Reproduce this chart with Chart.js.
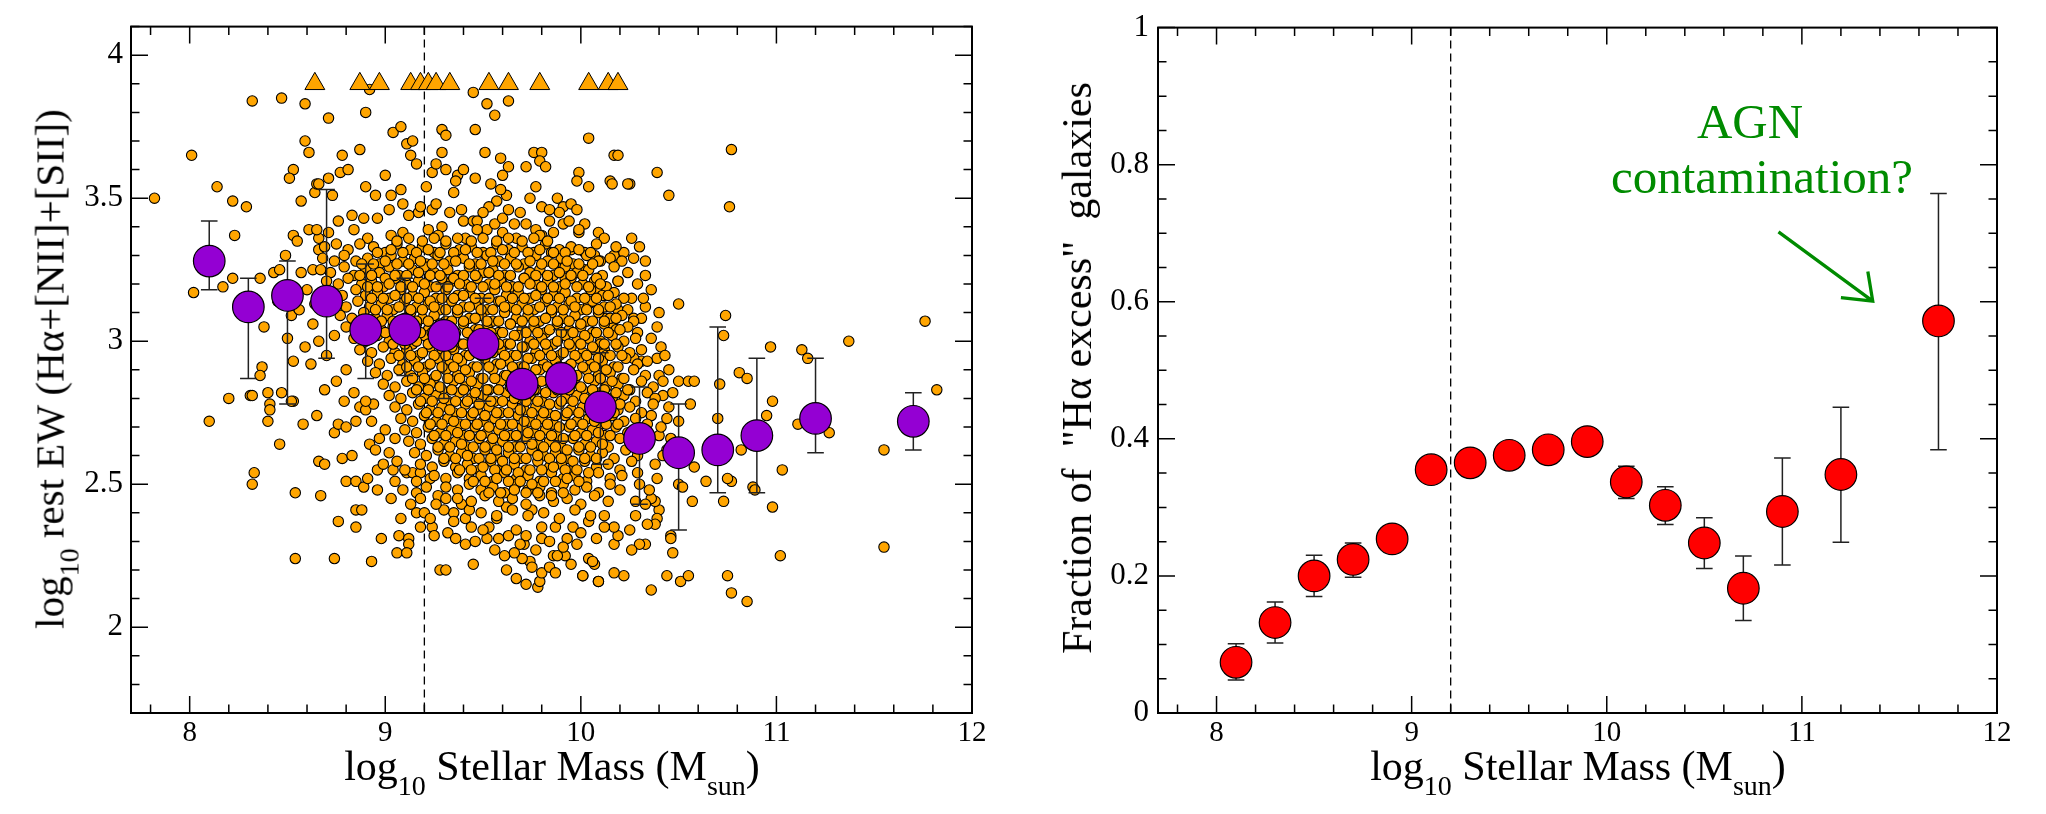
<!DOCTYPE html>
<html>
<head>
<meta charset="utf-8">
<script src="https://cdn.jsdelivr.net/npm/chart.js"></script>
<style>
  body { margin: 0; background: #fff; }
  #wrap { position: relative; width: 2046px; height: 814px; overflow: hidden; }
  canvas { position: absolute; top: 0; }
  .title { position: absolute; font-family: "Liberation Serif", serif; font-size: 42px; line-height: 1; white-space: pre; color: #000; }
  .title sub { font-size: 28px; vertical-align: baseline; position: relative; top: 15px; line-height: 1; }
  .xt { top: 745px; transform: translateX(-50%); }
  .yt { transform: translate(-50%, -50%) rotate(-90deg); }
  .agn { position: absolute; font-family: "Liberation Serif", serif; font-size: 49px; line-height: 1; color: rgb(0,139,0); white-space: nowrap; transform: translateX(-50%); }
</style>
</head>
<body>
<div id="wrap">
  <canvas id="ewChart" width="1000" height="814" style="left:0px"></canvas>
  <canvas id="fracChart" width="1046" height="814" style="left:1000px"></canvas>
  <div class="title xt" style="left:552px">log<sub>10</sub> Stellar Mass (M<sub>sun</sub>)</div>
  <div class="title xt" style="left:1578px">log<sub>10</sub> Stellar Mass (M<sub>sun</sub>)</div>
  <div class="title yt" style="left:50px; top:369px; font-size:41px">log<sub>10</sub> rest EW (Hα+[NII]+[SII])</div>
  <div class="title yt" style="left:1077px; top:368px">Fraction of  "Hα excess"  galaxies</div>
  <div class="agn" style="left:1750px; top:97px">AGN</div>
  <div class="agn" style="left:1762px; top:152px">contamination?</div>
</div>
<script>
// mass bins (both panels)
const massBins = [8.1, 8.3, 8.5, 8.7, 8.9, 9.1, 9.3, 9.5, 9.7, 9.9, 10.1, 10.3, 10.5, 10.7, 10.9, 11.2, 11.7];

// left panel: binned mean EW with error range
const ewMean = [3.28, 3.12, 3.16, 3.14, 3.04, 3.04, 3.02, 2.99, 2.85, 2.87, 2.77, 2.66, 2.61, 2.62, 2.67, 2.73, 2.72];
const ewHi   = [3.42, 3.22, 3.28, 3.53, 3.27, 3.22, 3.20, 3.15, 3.05, 3.04, 2.96, 2.84, 2.78, 3.05, 2.94, 2.94, 2.82];
const ewLo   = [3.18, 2.87, 2.78, 2.94, 2.87, 2.88, 2.80, 2.79, 2.65, 2.65, 2.57, 2.43, 2.34, 2.47, 2.47, 2.61, 2.62];

// right panel: fraction of "Halpha excess" galaxies
const fracMean = [0.074, 0.132, 0.200, 0.224, 0.254, 0.355, 0.365, 0.376, 0.384, 0.396, 0.337, 0.303, 0.248, 0.182, 0.294, 0.348, 0.572];
const fracHi   = [0.101, 0.162, 0.230, 0.248, 0.269, 0.367, 0.377, 0.388, 0.396, 0.408, 0.360, 0.330, 0.285, 0.229, 0.372, 0.446, 0.758];
const fracLo   = [0.048, 0.102, 0.170, 0.198, 0.239, 0.343, 0.353, 0.364, 0.372, 0.384, 0.313, 0.275, 0.211, 0.135, 0.216, 0.249, 0.384];

// lower limits (triangles) plotted at the top
const limitMass = [8.64, 8.87, 8.97, 9.13, 9.18, 9.22, 9.26, 9.33, 9.53, 9.63, 9.79, 10.04, 10.14, 10.19];
const limitEW = 3.90;

const massCut = 9.2;
const xTicks = [8, 9, 10, 11, 12];
const ewTicks = [2, 2.5, 3, 3.5, 4];
const fracTicks = [0, 0.2, 0.4, 0.6, 0.8, 1];

// arrow of the annotation, in data units: start, tip, head ends
const agnArrow = [[10.88, 0.702], [11.363, 0.601], [11.20, 0.606], [11.338, 0.644]];

// individual galaxies [mass, EW]
const dotsUpper = [
  [7.82,3.50],[8.01,3.65],[8.14,3.54],[8.22,3.49],[8.29,3.47],[8.23,3.37],[8.32,3.84],[8.47,3.85],[8.59,3.83],[8.71,3.78],
  [8.90,3.80],[8.92,3.88],[8.59,3.70],[8.61,3.66],[8.78,3.65],[8.87,3.67],[8.53,3.60],[8.51,3.57],[8.57,3.49],[8.64,3.52],
  [8.65,3.55],[8.71,3.57],[8.73,3.51],[8.77,3.59],[8.81,3.60],[8.90,3.54],[8.95,3.51],[9.00,3.58],[9.03,3.51],[9.08,3.53],
  [9.09,3.48],[9.04,3.73],[9.08,3.75],[9.11,3.69],[9.14,3.70],[9.13,3.65],[9.16,3.62],[9.17,3.45],[9.21,3.54],[9.24,3.59],
  [9.26,3.62],[9.24,3.46],[9.26,3.48],[9.29,3.74],[9.31,3.72],[9.29,3.66],[9.31,3.60],[9.35,3.52],[9.37,3.58],[9.40,3.60],
  [9.36,3.56],[9.46,3.74],[9.45,3.87],[9.52,3.83],[9.56,3.79],[9.63,3.84],[9.46,3.57],[9.51,3.66],[9.54,3.55],[9.59,3.64],
  [9.60,3.58],[9.63,3.61],[9.62,3.51],[9.59,3.53],[9.57,3.49],[9.53,3.47],[9.39,3.46],[9.40,3.42],[9.45,3.42],[9.52,3.39],
  [9.56,3.41],[9.60,3.43],[9.63,3.46],[9.72,3.61],[9.76,3.66],[9.80,3.66],[9.79,3.63],[9.82,3.61],[9.77,3.54],[9.74,3.50],
  [9.80,3.47],[9.72,3.41],[9.77,3.39],[9.80,3.37],[9.88,3.50],[9.91,3.47],[9.89,3.45],[9.95,3.48],[9.98,3.46],[9.91,3.41],
  [9.99,3.38],[9.99,3.59],[9.98,3.56],[10.04,3.54],[10.04,3.71],[10.15,3.56],[10.17,3.65],[10.19,3.65],[10.25,3.55],[10.16,3.55]
];
const dotsRight = [
  [10.77,3.67],[10.76,3.47],[10.39,3.59],[10.45,3.51],[10.24,3.55],[10.26,3.36],[10.30,3.33],[10.07,3.30],[10.10,3.28],[10.17,3.30],
  [10.22,3.31],[10.27,3.29],[10.33,3.28],[10.33,3.23],[10.19,3.21],[10.26,3.15],[10.19,3.11],[10.27,3.08],[10.31,3.08],[10.39,3.05],
  [10.50,3.13],[10.74,3.09],[10.73,3.02],[10.97,2.98],[11.13,2.97],[11.16,2.94],[11.37,3.00],[11.76,3.07],[10.39,2.94],[10.40,2.88],
  [10.31,2.93],[10.27,2.94],[10.81,2.89],[10.85,2.87],[10.50,2.86],[10.55,2.86],[10.58,2.86],[10.71,2.85],[9.95,3.32],[9.91,3.26],
  [9.85,3.31],[9.92,3.22],[10.02,3.25],[10.04,3.13],[10.08,3.18],[10.12,3.16],[10.13,3.08],[10.16,3.06],[10.12,2.97],[10.10,3.00],
  [11.82,2.83],[11.55,2.62],[11.55,2.28],[11.11,2.71],[11.27,2.68],[10.98,2.79],[10.95,2.74],[11.03,2.55],[10.98,2.42],[11.02,2.25],
  [10.82,2.62],[10.88,2.49],[10.89,2.48],[10.77,2.51],[10.75,2.52],[10.73,2.44],[10.70,2.73],[10.64,2.51],[10.58,2.56],[10.57,2.44],
  [10.56,2.78],[10.50,2.72],[10.50,2.50],[10.52,2.49],[10.46,2.32],[10.47,2.26],[10.46,2.31],[10.44,2.18],[10.51,2.16],[10.55,2.18],
  [10.36,2.13],[10.75,2.18],[10.77,2.12],[10.85,2.09],[10.40,2.41],[10.38,2.44],[10.36,2.45],[10.39,2.38],[10.38,2.36],[10.34,2.36],
  [10.33,2.29],[10.30,2.29],[10.26,2.27],[10.22,2.18],[10.17,2.19],[10.09,2.16],[10.01,2.18],[10.04,2.24],[10.07,2.22],[10.17,2.29],
  [10.19,2.32],[10.17,2.35],[10.25,2.34],[10.28,2.39],[10.33,2.43],[10.29,2.54],[10.40,2.67],[10.38,2.57],[10.41,2.70],[10.36,2.74],
  [10.42,2.81],[10.44,2.62],[10.45,2.77],[10.41,2.98],[10.36,3.01]
];
const dotsLeft = [
  [8.20,2.80],[8.31,2.81],[8.40,2.82],[8.47,2.82],[8.41,2.78],[8.41,2.76],[8.40,2.72],[8.10,2.72],[8.46,2.64],[8.53,2.79],
  [8.58,2.71],[8.65,2.74],[8.74,2.68],[8.76,2.71],[8.80,2.70],[8.85,2.72],[8.87,2.77],[8.90,2.76],[8.94,2.78],[8.92,2.64],
  [8.66,2.58],[8.69,2.57],[8.78,2.59],[8.83,2.60],[8.33,2.54],[8.32,2.50],[8.54,2.47],[8.67,2.46],[8.80,2.51],[8.85,2.51],
  [8.89,2.49],[8.91,2.52],[8.96,2.55],[8.96,2.48],[9.04,2.55],[9.05,2.51],[9.05,2.66],[8.85,2.41],[8.88,2.41],[8.76,2.37],
  [8.85,2.35],[8.98,2.31],[9.07,2.32],[9.12,2.31],[9.12,2.29],[9.06,2.26],[9.11,2.26],[8.54,2.24],[8.74,2.24],[8.93,2.23],
  [8.02,3.17],[8.17,3.19],[8.22,3.22],[8.61,3.39],[8.53,3.37],[8.55,3.35],[8.49,3.30],[8.43,3.24],[8.46,3.25],[8.36,3.22],
  [8.52,3.09],[8.56,3.11],[8.63,3.06],[8.59,2.98],[8.66,3.00],[8.50,3.01],[8.53,2.93],[8.37,2.91],[8.36,2.88],[8.32,2.81],
  [8.52,2.79],[8.75,2.86],[8.79,2.79],[8.90,2.79],[8.84,2.82],[8.66,3.36],[8.66,3.32],[8.63,3.25],[8.65,3.39],[8.66,3.55],
  [8.60,3.18],[8.64,3.13],[8.57,3.24],[8.70,2.95],[8.74,3.02],[8.62,2.92],[8.45,3.14],[8.38,3.05],[8.69,2.83],[8.80,2.90]
];
const dotsLower = [
  [9.11,2.54],[9.14,2.54],[9.18,2.54],[9.16,2.47],[9.18,2.45],[9.16,2.40],[9.20,2.40],[9.18,2.35],[9.24,2.35],[9.25,2.32],
  [9.23,2.52],[9.28,2.20],[9.31,2.20],[9.45,2.22],[9.32,2.33],[9.36,2.31],[9.41,2.29],[9.46,2.30],[9.52,2.31],[9.56,2.27],
  [9.41,2.38],[9.35,2.40],[9.30,2.41],[9.27,2.46],[9.62,2.20],[9.67,2.17],[9.72,2.15],[9.78,2.14],[9.79,2.16],[9.80,2.19],
  [9.84,2.21],[9.87,2.19],[9.92,2.25],[10.01,2.18],[10.09,2.16],[10.06,2.23],[9.74,2.23],[9.70,2.24],[9.66,2.26],[9.71,2.29],
  [9.80,2.31],[9.86,2.25],[9.88,2.25],[9.57,2.38],[9.63,2.32],[9.67,2.34],[9.72,2.32],[9.75,2.41],[9.80,2.35],[9.96,2.35],
  [9.98,2.29],[9.87,2.35],[9.62,2.42],[9.53,2.35],[9.93,2.31],[10.12,2.39],[10.08,2.31],[9.44,2.35]
];
// ragged edge of the central cloud
const dotsFringe = [
  [8.93,2.72],[8.97,2.66],[9.02,2.61],[8.99,2.57],[9.06,2.58],[9.03,2.45],[9.09,2.48],[9.13,2.43],[9.08,2.38],[9.21,2.49],
  [9.26,2.43],[9.31,2.45],[9.35,2.37],[9.39,2.43],[9.00,2.69],[8.95,2.62],[9.10,2.55],[9.16,2.51],[9.23,2.38],[9.43,2.41],
  [9.50,2.34],[9.58,2.31],[9.69,2.29],[9.77,2.27],[9.84,2.30],[9.91,2.28],[10.00,2.33],[10.04,2.37],[10.12,2.35],[9.61,2.25],
  [9.75,2.21],[9.95,2.22],[10.33,3.12],[10.36,3.18],[10.40,3.10],[10.43,2.95],[10.45,2.90],[10.42,2.86],[10.47,2.82],[10.44,2.73],
  [10.46,2.66],[10.42,2.60],[10.39,2.52],[10.35,2.48],[10.30,2.50],[10.28,2.44],[10.32,3.15],[10.29,3.20],[10.24,3.24],[10.21,3.28],
  [8.76,3.42],[8.83,3.44],[8.89,3.43],[9.02,3.46],[9.18,3.47],[9.33,3.45],[9.50,3.45],[9.69,3.45],[9.84,3.46],[9.94,3.42],
  [10.02,3.41],[10.09,3.38],[10.12,3.36],[10.18,3.33]
];
// dense central cloud
const dotsCore = [
  [8.96,3.43],[9.12,3.44],[9.29,3.40],[9.47,3.42],[9.66,3.41],[9.84,3.42],
  [8.71,3.38],[8.84,3.39],[8.91,3.36],[9.03,3.37],[9.09,3.38],[9.22,3.39],[9.27,3.37],[9.41,3.36],[9.47,3.39],[9.60,3.38],
  [9.67,3.36],[9.79,3.37],[9.86,3.38],[9.99,3.39],
  [8.69,3.33],[8.75,3.34],[8.81,3.32],[8.87,3.34],[8.94,3.33],[9.00,3.31],[9.06,3.34],[9.13,3.32],[9.19,3.33],[9.25,3.31],[9.31,3.34],
  [9.38,3.32],[9.44,3.33],[9.50,3.31],[9.57,3.34],[9.63,3.32],[9.70,3.33],[9.76,3.31],[9.82,3.34],[9.89,3.32],[9.95,3.33],[10.02,3.31],
  [10.08,3.34],
  [8.68,3.29],[8.74,3.28],[8.79,3.30],[8.85,3.28],[8.91,3.29],[8.97,3.27],[9.03,3.30],[9.09,3.28],[9.15,3.29],[9.21,3.27],[9.27,3.30],
  [9.33,3.28],[9.40,3.29],[9.46,3.27],[9.52,3.30],[9.58,3.28],[9.64,3.29],[9.71,3.27],[9.77,3.30],[9.83,3.28],[9.90,3.29],[9.96,3.27],
  [10.03,3.30],[10.09,3.28],[10.15,3.29],
  [8.67,3.25],[8.72,3.24],[8.79,3.26],[8.84,3.23],[8.90,3.25],[8.97,3.24],[9.02,3.26],[9.07,3.23],[9.14,3.25],[9.20,3.26],[9.25,3.24],
  [9.32,3.25],[9.37,3.23],[9.43,3.26],[9.50,3.24],[9.55,3.25],[9.61,3.23],[9.68,3.26],[9.74,3.24],[9.79,3.25],[9.86,3.23],[9.92,3.26],
  [9.98,3.24],[10.04,3.25],[10.11,3.23],[10.17,3.26],
  [8.70,3.21],[8.76,3.20],[8.81,3.22],[8.88,3.20],[8.93,3.21],[8.99,3.19],[9.05,3.22],[9.11,3.20],[9.17,3.21],[9.23,3.19],[9.29,3.22],
  [9.34,3.21],[9.41,3.20],[9.47,3.22],[9.53,3.20],[9.59,3.21],[9.65,3.19],[9.71,3.22],[9.77,3.20],[9.83,3.21],[9.89,3.19],[9.95,3.22],
  [10.01,3.20],[10.07,3.21],[10.13,3.19],[10.19,3.21],
  [8.72,3.17],[8.78,3.16],[8.85,3.18],[8.90,3.16],[8.96,3.17],[9.02,3.15],[9.08,3.18],[9.14,3.16],[9.20,3.17],[9.26,3.15],[9.31,3.18],
  [9.37,3.16],[9.43,3.17],[9.49,3.15],[9.56,3.18],[9.62,3.16],[9.68,3.17],[9.74,3.15],[9.80,3.18],[9.86,3.16],[9.92,3.17],[9.98,3.15],
  [10.05,3.18],[10.11,3.16],[10.17,3.17],[10.22,3.15],
  [8.74,3.13],[8.80,3.12],[8.86,3.14],[8.92,3.12],[8.98,3.13],[9.04,3.11],[9.10,3.14],[9.16,3.12],[9.22,3.13],[9.28,3.11],[9.34,3.14],
  [9.40,3.12],[9.46,3.13],[9.52,3.11],[9.58,3.14],[9.64,3.12],[9.70,3.13],[9.76,3.11],[9.82,3.14],[9.88,3.12],[9.94,3.13],[10.00,3.11],
  [10.06,3.14],[10.12,3.12],[10.18,3.13],[10.24,3.11],
  [8.77,3.09],[8.83,3.08],[8.89,3.10],[8.95,3.08],[9.01,3.09],[9.07,3.07],[9.13,3.10],[9.19,3.08],[9.25,3.09],[9.31,3.07],[9.37,3.10],
  [9.43,3.08],[9.49,3.09],[9.55,3.07],[9.61,3.10],[9.67,3.08],[9.73,3.09],[9.79,3.07],[9.85,3.10],[9.91,3.08],[9.97,3.09],[10.03,3.07],
  [10.09,3.10],[10.15,3.08],[10.21,3.09],[10.27,3.07],
  [8.80,3.05],[8.86,3.04],[8.92,3.06],[8.98,3.04],[9.04,3.05],[9.10,3.03],[9.16,3.06],[9.22,3.04],[9.28,3.05],[9.34,3.03],[9.40,3.06],
  [9.46,3.04],[9.52,3.05],[9.58,3.03],[9.64,3.06],[9.70,3.04],[9.76,3.05],[9.82,3.03],[9.88,3.06],[9.94,3.04],[10.00,3.05],[10.06,3.03],
  [10.12,3.06],[10.18,3.04],[10.24,3.05],[10.29,3.03],
  [8.84,3.01],[8.90,3.00],[8.96,3.02],[9.02,3.00],[9.08,3.01],[9.14,2.99],[9.20,3.02],[9.26,3.00],[9.32,3.01],[9.38,2.99],[9.44,3.02],
  [9.50,3.00],[9.56,3.01],[9.62,2.99],[9.68,3.02],[9.74,3.00],[9.80,3.01],[9.86,2.99],[9.92,3.02],[9.98,3.00],[10.04,3.01],[10.10,2.99],
  [10.16,3.02],[10.22,3.00],[10.28,3.01],
  [8.87,2.97],[8.93,2.96],[8.99,2.98],[9.05,2.96],[9.11,2.97],[9.17,2.95],[9.23,2.98],[9.29,2.96],[9.35,2.97],[9.41,2.95],[9.47,2.98],
  [9.53,2.96],[9.59,2.97],[9.65,2.95],[9.71,2.98],[9.77,2.96],[9.83,2.97],[9.89,2.95],[9.95,2.98],[10.01,2.96],[10.07,2.97],[10.13,2.95],
  [10.19,2.98],[10.25,2.96],[10.31,2.97],
  [8.91,2.93],[8.97,2.92],[9.03,2.94],[9.09,2.92],[9.15,2.93],[9.21,2.91],[9.27,2.94],[9.33,2.92],[9.39,2.93],[9.45,2.91],[9.51,2.94],
  [9.57,2.92],[9.63,2.93],[9.69,2.91],[9.75,2.94],[9.81,2.92],[9.87,2.93],[9.93,2.91],[9.99,2.94],[10.05,2.92],[10.11,2.93],[10.17,2.91],
  [10.23,2.94],[10.29,2.92],[10.34,2.93],
  [8.95,2.89],[9.01,2.88],[9.07,2.90],[9.13,2.88],[9.19,2.89],[9.25,2.87],[9.31,2.90],[9.37,2.88],[9.43,2.89],[9.49,2.87],[9.55,2.90],
  [9.61,2.88],[9.67,2.89],[9.73,2.87],[9.79,2.90],[9.85,2.88],[9.91,2.89],[9.97,2.87],[10.03,2.90],[10.09,2.88],[10.15,2.89],[10.21,2.87],
  [10.27,2.90],[10.33,2.88],
  [8.99,2.85],[9.05,2.84],[9.11,2.86],[9.17,2.84],[9.23,2.85],[9.29,2.83],[9.35,2.86],[9.41,2.84],[9.47,2.85],[9.53,2.83],[9.59,2.86],
  [9.65,2.84],[9.71,2.85],[9.77,2.83],[9.83,2.86],[9.89,2.84],[9.95,2.85],[10.01,2.83],[10.07,2.86],[10.13,2.84],[10.19,2.85],[10.25,2.83],
  [10.31,2.86],[10.37,2.84],
  [9.02,2.81],[9.08,2.80],[9.14,2.82],[9.20,2.80],[9.26,2.81],[9.32,2.79],[9.38,2.82],[9.44,2.80],[9.50,2.81],[9.56,2.79],[9.62,2.82],
  [9.68,2.80],[9.74,2.81],[9.80,2.79],[9.86,2.82],[9.92,2.80],[9.98,2.81],[10.04,2.79],[10.10,2.82],[10.16,2.80],[10.22,2.81],[10.28,2.79],
  [10.34,2.82],[10.38,2.80],
  [9.05,2.77],[9.11,2.76],[9.17,2.78],[9.23,2.76],[9.29,2.77],[9.35,2.75],[9.41,2.78],[9.47,2.76],[9.53,2.77],[9.59,2.75],[9.65,2.78],
  [9.71,2.76],[9.77,2.77],[9.83,2.75],[9.89,2.78],[9.95,2.76],[10.01,2.77],[10.07,2.75],[10.13,2.78],[10.19,2.76],[10.25,2.77],[10.31,2.75],
  [10.37,2.78],
  [9.08,2.73],[9.14,2.72],[9.20,2.74],[9.26,2.72],[9.32,2.73],[9.38,2.71],[9.44,2.74],[9.50,2.72],[9.56,2.73],[9.62,2.71],[9.68,2.74],
  [9.74,2.72],[9.80,2.73],[9.86,2.71],[9.92,2.74],[9.98,2.72],[10.04,2.73],[10.10,2.71],[10.16,2.74],[10.22,2.72],[10.28,2.73],[10.34,2.71],
  [9.10,2.69],[9.16,2.68],[9.22,2.70],[9.28,2.68],[9.34,2.69],[9.40,2.67],[9.46,2.70],[9.52,2.68],[9.58,2.69],[9.64,2.67],[9.70,2.70],
  [9.76,2.68],[9.82,2.69],[9.88,2.67],[9.94,2.70],[10.00,2.68],[10.06,2.69],[10.12,2.67],[10.18,2.70],[10.24,2.68],[10.30,2.69],[10.35,2.67],
  [9.12,2.65],[9.18,2.64],[9.24,2.66],[9.30,2.64],[9.36,2.65],[9.42,2.63],[9.48,2.66],[9.54,2.64],[9.60,2.65],[9.66,2.63],[9.72,2.66],
  [9.78,2.64],[9.84,2.65],[9.90,2.63],[9.96,2.66],[10.02,2.64],[10.08,2.65],[10.14,2.63],[10.20,2.66],[10.26,2.64],[10.32,2.65],
  [9.15,2.61],[9.21,2.60],[9.27,2.62],[9.33,2.60],[9.39,2.61],[9.45,2.59],[9.51,2.62],[9.57,2.60],[9.63,2.61],[9.69,2.59],[9.75,2.62],
  [9.81,2.60],[9.87,2.61],[9.93,2.59],[9.99,2.62],[10.05,2.60],[10.11,2.61],[10.17,2.59],[10.23,2.62],[10.29,2.60],
  [9.18,2.57],[9.24,2.56],[9.30,2.58],[9.36,2.56],[9.42,2.57],[9.48,2.55],[9.54,2.58],[9.60,2.56],[9.66,2.57],[9.72,2.55],[9.78,2.58],
  [9.84,2.56],[9.90,2.57],[9.96,2.55],[10.02,2.58],[10.08,2.56],[10.14,2.57],[10.20,2.55],[10.26,2.58],
  [9.25,2.53],[9.31,2.52],[9.37,2.54],[9.43,2.52],[9.49,2.53],[9.55,2.51],[9.61,2.54],[9.67,2.52],[9.73,2.53],[9.79,2.51],[9.85,2.54],
  [9.91,2.52],[9.97,2.53],[10.03,2.51],[10.09,2.54],[10.15,2.52],[10.21,2.53],
  [9.31,2.49],[9.37,2.48],[9.43,2.50],[9.49,2.48],[9.55,2.49],[9.61,2.47],[9.67,2.50],[9.73,2.48],[9.79,2.49],[9.85,2.47],[9.91,2.50],
  [9.97,2.48],[10.03,2.49],[10.09,2.47],[10.15,2.50],[10.20,2.48],
  [9.37,2.45],[9.44,2.44],[9.51,2.46],[9.58,2.44],[9.65,2.45],[9.72,2.43],[9.79,2.46],[9.86,2.44],[9.93,2.45],[10.00,2.43],[10.07,2.46],[10.14,2.44],
  [9.49,2.40],[9.57,2.39],[9.65,2.41],[9.73,2.39],[9.81,2.40],[9.89,2.38],[9.97,2.41],[10.05,2.39]
];
// densest middle of the cloud, between the rows above
const dotsCoreFill = [
  [9.06,3.35],[9.12,3.36],[9.19,3.35],[9.25,3.36],[9.31,3.35],[9.37,3.36],[9.44,3.35],[9.50,3.36],[9.57,3.35],[9.63,3.36],[9.70,3.35],
  [9.76,3.36],[9.83,3.35],
  [8.96,3.31],[9.03,3.32],[9.09,3.31],[9.16,3.31],[9.22,3.32],[9.28,3.31],[9.35,3.31],[9.41,3.32],[9.47,3.31],[9.54,3.31],[9.60,3.32],
  [9.66,3.31],[9.73,3.31],[9.79,3.32],[9.86,3.31],[9.92,3.31],[9.99,3.32],[10.05,3.31],
  [8.88,3.27],[8.94,3.27],[9.00,3.28],[9.06,3.27],[9.12,3.27],[9.18,3.28],[9.24,3.27],[9.30,3.27],[9.36,3.28],[9.43,3.27],[9.49,3.27],
  [9.55,3.28],[9.61,3.27],[9.67,3.27],[9.74,3.28],[9.80,3.27],[9.86,3.27],[9.93,3.28],[9.99,3.27],[10.06,3.27],
  [8.87,3.23],[8.93,3.23],[9.00,3.22],[9.05,3.23],[9.11,3.23],[9.17,3.24],[9.23,3.23],[9.28,3.23],[9.35,3.22],[9.40,3.23],[9.46,3.23],
  [9.53,3.24],[9.58,3.23],[9.64,3.23],[9.71,3.22],[9.77,3.23],[9.83,3.23],[9.89,3.24],[9.95,3.23],[10.01,3.23],[10.08,3.22],
  [8.91,3.19],[8.96,3.19],[9.02,3.20],[9.08,3.19],[9.14,3.19],[9.20,3.20],[9.26,3.19],[9.32,3.19],[9.38,3.20],[9.44,3.19],[9.50,3.19],
  [9.56,3.20],[9.62,3.19],[9.68,3.19],[9.74,3.20],[9.80,3.19],[9.86,3.19],[9.92,3.20],[9.98,3.19],[10.04,3.19],[10.10,3.20],
  [8.93,3.15],[8.99,3.15],[9.05,3.16],[9.11,3.15],[9.17,3.15],[9.23,3.14],[9.29,3.15],[9.35,3.15],[9.40,3.16],[9.46,3.15],[9.53,3.15],
  [9.59,3.14],[9.65,3.15],[9.71,3.15],[9.77,3.16],[9.83,3.15],[9.89,3.15],[9.95,3.14],[10.02,3.15],[10.08,3.15],[10.14,3.16],
  [8.95,3.11],[9.01,3.11],[9.07,3.12],[9.13,3.11],[9.19,3.11],[9.25,3.12],[9.31,3.11],[9.37,3.11],[9.43,3.12],[9.49,3.11],[9.55,3.11],
  [9.61,3.12],[9.67,3.11],[9.73,3.11],[9.79,3.12],[9.85,3.11],[9.91,3.11],[9.97,3.12],[10.03,3.11],[10.09,3.11],[10.15,3.12],
  [8.98,3.07],[9.04,3.07],[9.10,3.08],[9.16,3.07],[9.22,3.07],[9.28,3.06],[9.34,3.07],[9.40,3.07],[9.46,3.08],[9.52,3.07],[9.58,3.07],
  [9.64,3.06],[9.70,3.07],[9.76,3.07],[9.82,3.08],[9.88,3.07],[9.94,3.07],[10.00,3.06],[10.06,3.07],[10.12,3.07],[10.18,3.08],
  [9.00,3.03],[9.06,3.03],[9.12,3.04],[9.18,3.03],[9.24,3.03],[9.30,3.02],[9.36,3.03],[9.42,3.03],[9.48,3.04],[9.54,3.03],[9.60,3.03],
  [9.66,3.02],[9.72,3.03],[9.78,3.03],[9.84,3.04],[9.90,3.03],[9.96,3.03],[10.02,3.02],[10.08,3.03],[10.14,3.03],[10.20,3.04],
  [9.04,2.99],[9.10,2.99],[9.16,3.00],[9.22,2.99],[9.28,2.99],[9.34,2.98],[9.40,2.99],[9.46,2.99],[9.52,3.00],[9.58,2.99],[9.64,2.99],
  [9.70,2.98],[9.76,2.99],[9.82,2.99],[9.88,3.00],[9.94,2.99],[10.00,2.99],[10.06,2.98],[10.12,2.99],[10.18,2.99],
  [9.07,2.95],[9.13,2.95],[9.19,2.96],[9.25,2.95],[9.31,2.95],[9.37,2.94],[9.43,2.95],[9.49,2.95],[9.55,2.96],[9.61,2.95],[9.67,2.95],
  [9.73,2.94],[9.79,2.95],[9.85,2.95],[9.91,2.96],[9.97,2.95],[10.03,2.95],[10.09,2.94],[10.15,2.95],[10.21,2.95],
  [9.11,2.91],[9.17,2.91],[9.23,2.92],[9.29,2.91],[9.35,2.91],[9.41,2.90],[9.47,2.91],[9.53,2.91],[9.59,2.92],[9.65,2.91],[9.71,2.91],
  [9.77,2.90],[9.83,2.91],[9.89,2.91],[9.95,2.92],[10.01,2.91],[10.07,2.91],[10.13,2.90],[10.19,2.91],
  [9.14,2.87],[9.20,2.87],[9.26,2.88],[9.32,2.87],[9.38,2.87],[9.44,2.86],[9.50,2.87],[9.56,2.87],[9.62,2.88],[9.68,2.87],[9.74,2.87],
  [9.80,2.86],[9.86,2.87],[9.92,2.87],[9.98,2.88],[10.04,2.87],[10.10,2.87],[10.16,2.86],[10.22,2.87],
  [9.16,2.83],[9.22,2.83],[9.28,2.84],[9.34,2.83],[9.40,2.83],[9.46,2.82],[9.52,2.83],[9.58,2.83],[9.64,2.84],[9.70,2.83],[9.76,2.83],
  [9.82,2.82],[9.88,2.83],[9.94,2.83],[10.00,2.84],[10.06,2.83],[10.12,2.83],[10.18,2.82],[10.24,2.83],
  [9.18,2.79],[9.24,2.79],[9.30,2.80],[9.36,2.79],[9.42,2.79],[9.48,2.78],[9.54,2.79],[9.60,2.79],[9.66,2.80],[9.72,2.79],[9.78,2.79],
  [9.84,2.78],[9.90,2.79],[9.96,2.79],[10.02,2.80],[10.08,2.79],[10.14,2.79],[10.20,2.78],
  [9.21,2.75],[9.27,2.75],[9.33,2.76],[9.39,2.75],[9.45,2.75],[9.51,2.74],[9.57,2.75],[9.63,2.75],[9.69,2.76],[9.75,2.75],[9.81,2.75],
  [9.87,2.74],[9.93,2.75],[9.99,2.75],[10.05,2.76],[10.11,2.75],[10.17,2.75],
  [9.23,2.71],[9.29,2.71],[9.35,2.72],[9.41,2.71],[9.47,2.71],[9.53,2.70],[9.59,2.71],[9.65,2.71],[9.71,2.72],[9.77,2.71],[9.83,2.71],
  [9.89,2.70],[9.95,2.71],[10.01,2.71],[10.07,2.72],[10.13,2.71],[10.19,2.71],
  [9.25,2.67],[9.31,2.67],[9.37,2.68],[9.43,2.67],[9.49,2.67],[9.55,2.66],[9.61,2.67],[9.67,2.67],[9.73,2.68],[9.79,2.67],[9.85,2.67],
  [9.91,2.66],[9.97,2.67],[10.03,2.67],[10.09,2.68],[10.15,2.67],
  [9.27,2.63],[9.33,2.63],[9.39,2.64],[9.45,2.63],[9.51,2.63],[9.57,2.62],[9.63,2.63],[9.69,2.63],[9.75,2.64],[9.81,2.63],[9.87,2.63],
  [9.93,2.62],[9.99,2.63],[10.05,2.63],[10.11,2.64],
  [9.30,2.59],[9.36,2.59],[9.42,2.60],[9.48,2.59],[9.54,2.59],[9.60,2.58],[9.66,2.59],[9.72,2.59],[9.78,2.60],[9.84,2.59],[9.90,2.59],
  [9.96,2.58],[10.02,2.59],[10.08,2.59],
  [9.38,2.55],[9.44,2.55],[9.50,2.56],[9.56,2.55],[9.62,2.55],[9.68,2.54],[9.74,2.55],[9.80,2.55],[9.86,2.56],[9.92,2.55],[9.98,2.55],[10.04,2.54],
  [9.45,2.51],[9.51,2.51],[9.57,2.52],[9.63,2.51],[9.69,2.51],[9.75,2.50],[9.81,2.51],[9.87,2.51],[9.93,2.52],[9.99,2.51],
  [9.53,2.47],[9.59,2.47],[9.66,2.48],[9.72,2.47],[9.78,2.47],[9.85,2.46],[9.91,2.47]
];

const serif = '"Liberation Serif", "Times New Roman", serif';
Chart.defaults.font.family = serif;
Chart.defaults.color = '#000';

const toXY = p => ({ x: p[0], y: p[1] });

function tickBox(major, minorStep, majorVals) {
  return { major, minorStep, majorVals };
}

// frame with inward major/minor ticks on all four sides
function framePlugin(xCfg, yCfg) {
  return {
    id: 'frame',
    afterDraw(chart) {
      const { ctx, chartArea: a, scales: { x, y } } = chart;
      const isMajor = (v, list) => list.some(t => Math.abs(t - v) < 1e-6);
      ctx.save();
      ctx.strokeStyle = '#000';
      ctx.lineWidth = 1.5;
      ctx.beginPath();
      for (let k = Math.ceil(x.min / xCfg.minorStep - 1e-6); k * xCfg.minorStep <= x.max + 1e-6; k++) {
        const v = k * xCfg.minorStep;
        const px = x.getPixelForValue(v);
        const len = isMajor(v, xCfg.majorVals) ? 17 : 8.5;
        ctx.moveTo(px, a.bottom); ctx.lineTo(px, a.bottom - len);
        ctx.moveTo(px, a.top); ctx.lineTo(px, a.top + len);
      }
      for (let k = Math.ceil(y.min / yCfg.minorStep - 1e-6); k * yCfg.minorStep <= y.max + 1e-6; k++) {
        const v = k * yCfg.minorStep;
        const py = y.getPixelForValue(v);
        const len = isMajor(v, yCfg.majorVals) ? 17 : 8.5;
        ctx.moveTo(a.left, py); ctx.lineTo(a.left + len, py);
        ctx.moveTo(a.right, py); ctx.lineTo(a.right - len, py);
      }
      ctx.stroke();
      ctx.lineWidth = 2;
      ctx.strokeRect(a.left, a.top, a.right - a.left, a.bottom - a.top);
      ctx.restore();
    }
  };
}

// dashed mass-completeness line, under the points
const cutPlugin = {
  id: 'cut',
  beforeDatasetsDraw(chart) {
    const { ctx, chartArea: a, scales: { x } } = chart;
    const px = x.getPixelForValue(massCut);
    ctx.save();
    ctx.strokeStyle = '#000';
    ctx.lineWidth = 1.3;
    ctx.setLineDash([8, 5]);
    ctx.beginPath();
    ctx.moveTo(px, a.top);
    ctx.lineTo(px, a.bottom);
    ctx.stroke();
    ctx.restore();
  }
};

// error bars drawn right before the binned points
function errorBarPlugin(datasetIndex, xs, lo, hi) {
  return {
    id: 'errbars',
    beforeDatasetDraw(chart, args) {
      if (args.index !== datasetIndex) return;
      const { ctx, scales: { x, y } } = chart;
      ctx.save();
      ctx.strokeStyle = '#222';
      ctx.lineWidth = 1.5;
      ctx.beginPath();
      xs.forEach((m, i) => {
        const px = x.getPixelForValue(m);
        const pLo = y.getPixelForValue(lo[i]);
        const pHi = y.getPixelForValue(hi[i]);
        ctx.moveTo(px, pLo); ctx.lineTo(px, pHi);
        ctx.moveTo(px - 8.3, pLo); ctx.lineTo(px + 8.3, pLo);
        ctx.moveTo(px - 8.3, pHi); ctx.lineTo(px + 8.3, pHi);
      });
      ctx.stroke();
      ctx.restore();
    }
  };
}

const arrowPlugin = {
  id: 'agnArrow',
  afterDatasetsDraw(chart) {
    const { ctx, scales: { x, y } } = chart;
    const P = agnArrow.map(p => [x.getPixelForValue(p[0]), y.getPixelForValue(p[1])]);
    ctx.save();
    ctx.strokeStyle = 'rgb(0,139,0)';
    ctx.lineWidth = 3.3;
    ctx.beginPath();
    ctx.moveTo(P[0][0], P[0][1]); ctx.lineTo(P[1][0], P[1][1]);
    ctx.moveTo(P[2][0], P[2][1]); ctx.lineTo(P[1][0], P[1][1]); ctx.lineTo(P[3][0], P[3][1]);
    ctx.stroke();
    ctx.restore();
  }
};

function axes(yMin, yMax, yTickVals, yWidth, yPad) {
  return {
    x: {
      type: 'linear', min: 7.7, max: 12,
      afterBuildTicks: s => { s.ticks = xTicks.map(v => ({ value: v })); },
      afterFit: s => { s.height = 101; },
      grid: { display: false, drawTicks: false },
      border: { display: false },
      ticks: { autoSkip: false, maxRotation: 0, padding: 3, font: { family: serif, size: 29 }, callback: v => String(v) }
    },
    y: {
      type: 'linear', min: yMin, max: yMax,
      afterBuildTicks: s => { s.ticks = yTickVals.map(v => ({ value: v })); },
      afterFit: s => { s.width = yWidth; },
      grid: { display: false, drawTicks: false },
      border: { display: false },
      ticks: { autoSkip: false, padding: yPad, font: { family: serif, size: 31 }, callback: v => String(v) }
    }
  };
}

const common = {
  responsive: false,
  animation: false,
  events: [],
  plugins: { legend: { display: false }, tooltip: { enabled: false } }
};

const allDots = [...dotsUpper, ...dotsRight, ...dotsLeft, ...dotsLower, ...dotsFringe, ...dotsCore, ...dotsCoreFill];

new Chart(document.getElementById('ewChart'), {
  type: 'scatter',
  data: {
    datasets: [
      {
        data: massBins.map((m, i) => ({ x: m, y: ewMean[i] })),
        order: 0,
        pointRadius: 15.8,
        pointBackgroundColor: '#9400d3',
        pointBorderColor: '#000',
        pointBorderWidth: 1.2
      },
      {
        data: limitMass.map(m => ({ x: m, y: limitEW })),
        order: 1,
        pointStyle: 'triangle',
        pointRadius: 11.5,
        pointBackgroundColor: '#ffa500',
        pointBorderColor: '#000',
        pointBorderWidth: 1
      },
      {
        data: allDots.map(toXY),
        order: 2,
        pointRadius: 5.2,
        pointBackgroundColor: '#ffa500',
        pointBorderColor: '#000',
        pointBorderWidth: 1.1
      }
    ]
  },
  options: {
    ...common,
    layout: { padding: { left: 0, right: 28, top: 20, bottom: 0 } },
    scales: axes(1.7, 4.1, ewTicks, 131, 8)
  },
  plugins: [cutPlugin, errorBarPlugin(0, massBins, ewLo, ewHi), framePlugin(tickBox(1, 0.2, xTicks), tickBox(0.5, 0.1, ewTicks))]
});

new Chart(document.getElementById('fracChart'), {
  type: 'scatter',
  data: {
    datasets: [
      {
        data: massBins.map((m, i) => ({ x: m, y: fracMean[i] })),
        pointRadius: 15.8,
        pointBackgroundColor: '#ff0000',
        pointBorderColor: '#000',
        pointBorderWidth: 1.2
      }
    ]
  },
  options: {
    ...common,
    layout: { padding: { left: 0, right: 49, top: 20, bottom: 0 } },
    scales: axes(0, 1, fracTicks, 158, 9)
  },
  plugins: [cutPlugin, errorBarPlugin(0, massBins, fracLo, fracHi), arrowPlugin, framePlugin(tickBox(1, 0.2, xTicks), tickBox(0.2, 0.05, fracTicks))]
});
</script>
</body>
</html>
